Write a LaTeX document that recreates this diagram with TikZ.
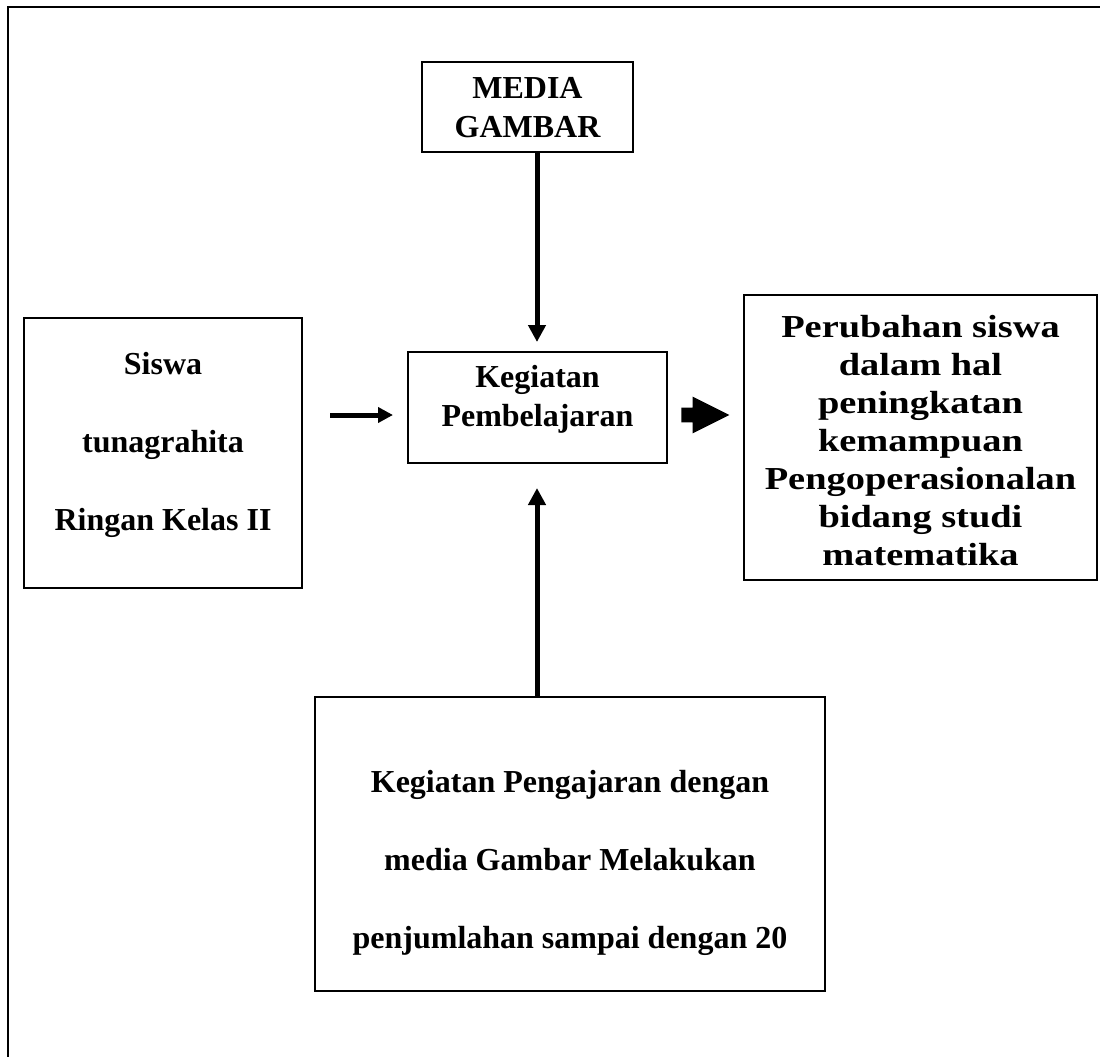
\documentclass[tikz,border=0pt]{standalone}
\usepackage{fontspec}
\setmainfont{Liberation Serif}
\newfontfamily\lebar[FakeStretch=1.2]{Liberation Serif}
\usetikzlibrary{arrows.meta,shapes.arrows}
\begin{document}
\begin{tikzpicture}[x=0.5pt, y=-0.5pt,
    kotak/.style={draw, line width=1pt, inner sep=0pt},
    teks/.style={align=center, font=\bfseries\fontsize{16}{19.5}\selectfont},
    panah/.style={-{Triangle[length=8.5pt, width=8.5pt]}, line width=2.5pt}]
    \useasboundingbox (0, 0) rectangle (1100, 1057);

    % bingkai luar (hanya sisi atas dan kiri)
    \draw[line width=1.2pt] (1100, 7) -- (8, 7) -- (8, 1057);

    % kotak-kotak
    \node[kotak, minimum width=105.5pt, minimum height=45pt] (media) at (527.5, 107) {};
    \node[teks] (mediateks) at (527.5, 108) {MEDIA\\GAMBAR};

    \node[kotak, minimum width=139pt, minimum height=135pt] (siswa) at (163, 453) {};
    \node[teks, font=\bfseries\fontsize{16}{39}\selectfont] (siswateks) at (163, 445) {Siswa\\tunagrahita\\Ringan Kelas II};

    \node[kotak, minimum width=129.5pt, minimum height=55.5pt] (belajar) at (537.5, 407.5) {};
    \node[teks] (belajarteks) at (537.5, 399) {Kegiatan\\Pembelajaran};

    \node[kotak, minimum width=176.5pt, minimum height=142.5pt] (ubah) at (920.5, 437.5) {};
    \node[teks, font=\lebar\bfseries\fontsize{16}{19}\selectfont] (ubahteks) at (920.5, 441) {Perubahan siswa\\dalam hal\\peningkatan\\kemampuan\\Pengoperasionalan\\bidang studi\\matematika};

    \node[kotak, minimum width=255pt, minimum height=147pt] (ajar) at (570, 844) {};
    \node[teks, font=\bfseries\fontsize{16}{39}\selectfont] (ajarteks) at (570, 863) {Kegiatan Pengajaran dengan\\media Gambar Melakukan\\penjumlahan sampai dengan 20};

    % panah
    \draw[panah] (media.south -| 537, 0) -- (537, 342) coordinate (masuk);
    \draw[panah] (ajar.north -| 537, 0) -- (537, 488) coordinate (keluar);
    \draw[panah, -{Triangle[length=7.5pt, width=7.5pt]}] ([xshift=13.5pt]siswa.east |- 0, 415) coordinate (kiri) -- (393, 415);

    % panah blok ke hasil
    \node[single arrow, fill=black, inner xsep=0pt, inner ysep=3.5pt, minimum height=24pt,
        single arrow head extend=5.5pt, single arrow tip angle=53] (blok) at (698, 415) {};
\end{tikzpicture}
\end{document}
